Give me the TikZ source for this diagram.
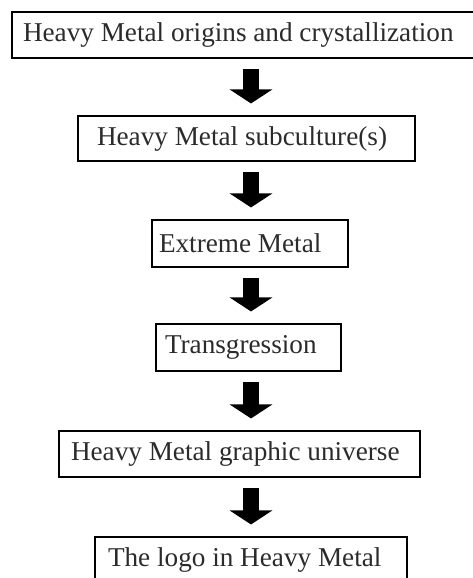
\documentclass[tikz,border=0pt]{standalone}
\usepackage{fontspec}
\setmainfont{Liberation Serif}
\usetikzlibrary{arrows.meta,positioning}
\definecolor{ink}{HTML}{2B2B2B}

\begin{document}
\begin{tikzpicture}[
  x=0.75pt, y=-0.75pt,
  stage/.style={draw, line width=1.8pt, fill=white, text=ink, inner ysep=0pt, align=flush left, font=\fontsize{20.4}{24}\selectfont},
  flow/.style={line width=12pt, -{Triangle[length=10.5pt, width=31.5pt]}, shorten <=7.5pt, shorten >=8.5pt},
]
  \useasboundingbox (0,0) rectangle (473,578);
  \coordinate (axis) at (251,0);

  \node[stage, inner xsep=8.25pt, text width=331.5pt, minimum height=34.5pt] (s1) at (244,35) {Heavy Metal origins and crystallization};
  \node[stage, inner xsep=14.25pt, text width=224.25pt, minimum height=33.75pt] (s2) at (246.5,138.5) {Heavy Metal subculture(s)};
  \node[stage, inner xsep=5.25pt, text width=136.5pt, minimum height=35.25pt] (s3) at (250,243.5) {Extreme Metal};
  \node[stage, inner xsep=6.75pt, text width=125.25pt, minimum height=35.25pt] (s4) at (248.5,347.5) {Transgression};
  \node[stage, inner xsep=9pt, text width=252.75pt, minimum height=34.5pt] (s5) at (239.5,454) {Heavy Metal graphic universe};
  \node[stage, inner xsep=9.75pt, text width=214.5pt, minimum height=34.5pt] (s6) at (251,560) {The logo in Heavy Metal};

  \draw[flow] (s1.south -| axis) -- (s2.north -| axis);
  \draw[flow] (s2.south -| axis) -- (s3.north -| axis);
  \draw[flow] (s3.south -| axis) -- (s4.north -| axis);
  \draw[flow] (s4.south -| axis) -- (s5.north -| axis);
  \draw[flow] (s5.south -| axis) -- (s6.north -| axis);
\end{tikzpicture}
\end{document}
